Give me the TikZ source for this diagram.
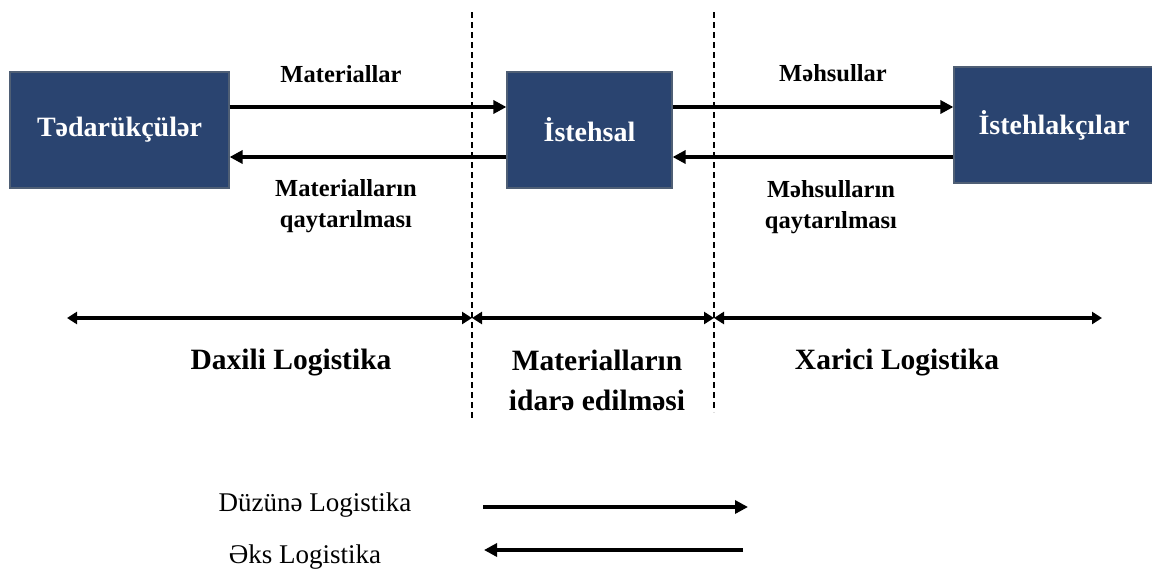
\documentclass[tikz,border=0pt]{standalone}
\usepackage{fontspec}
\setmainfont{Liberation Serif}
\usetikzlibrary{arrows.meta}
\definecolor{boxblue}{HTML}{2A4470}
\definecolor{boxedge}{HTML}{4F5F75}
\tikzset{
  entity/.style={draw=boxedge, line width=1.2pt, fill=boxblue, text=white, font=\fontsize{28}{32}\selectfont\bfseries, inner sep=0pt},
  flow/.style={line width=3.5pt, -{Triangle[length=13pt,width=13pt]}},
  span/.style={line width=3.5pt, {Triangle[length=10pt,width=12pt]}-{Triangle[length=10pt,width=12pt]}},
  divider/.style={line width=1.2pt, dash pattern=on 6pt off 4pt},
  flowlabel/.style={font=\fontsize{24.5}{31}\selectfont\bfseries, align=center},
  zonelabel/.style={font=\fontsize{29.5}{40}\selectfont\bfseries, align=center},
  legendlabel/.style={font=\fontsize{27}{30}\selectfont},
}
\begin{document}
\begin{tikzpicture}[x=1pt,y=-1pt]
\useasboundingbox (0,0) rectangle (1152,573);
% boxes
\node[entity, minimum width=219pt, minimum height=116pt] (sup) at (119.5,130) {Tədarükçülər};
\node[entity, minimum width=165pt, minimum height=116pt] (prod) at (589.5,130) {İstehsal};
\node[entity, minimum width=200pt, minimum height=116pt] (cons) at (1054,125) {İstehlakçılar};
% dividers
\coordinate (d1t) at (472,12); \coordinate (d1b) at (472,418);
\coordinate (d2t) at (714,12); \coordinate (d2b) at (714,412);
\draw[divider] (d1t) -- (d1b);
\draw[divider] (d2t) -- (d2b);
% flows
\draw[flow] (sup.east |- 0,107) -- (prod.west |- 0,107);
\draw[flow] (prod.west |- 0,157) -- (sup.east |- 0,157);
\draw[flow] (prod.east |- 0,107) -- (cons.west |- 0,107);
\draw[flow] (cons.west |- 0,157) -- (prod.east |- 0,157);
% flow labels
\node[flowlabel] (l1) at (341,74) {Materiallar};
\node[flowlabel] (l2) at (346,206) {Materialların\\qaytarılması};
\node[flowlabel] (l3) at (833,73) {Məhsullar};
\node[flowlabel] (l4) at (831,207) {Məhsulların\\qaytarılması};
% spans
\coordinate (s0) at (67,318);
\coordinate (s1) at (472,318);
\coordinate (s2) at (714,318);
\coordinate (s3) at (1102,318);
\draw[span] (s0) -- (s1);
\draw[span] (s1) -- (s2);
\draw[span] (s2) -- (s3);
\node[zonelabel] (z1) at (291,363) {Daxili Logistika};
\node[zonelabel] (z2) at (597,380) {Materialların\\idarə edilməsi};
\node[zonelabel] (z3) at (897,363) {Xarici Logistika};
% legend
\node[legendlabel] (lg1) at (315,505) {Düzünə Logistika};
\node[legendlabel] (lg2) at (305,557) {Əks Logistika};
\coordinate (a1s) at (483,507); \coordinate (a1e) at (748,507);
\coordinate (a2s) at (743,550); \coordinate (a2e) at (484,550);
\draw[flow] (a1s) -- (a1e);
\draw[flow] (a2s) -- (a2e);
\end{tikzpicture}
\end{document}
